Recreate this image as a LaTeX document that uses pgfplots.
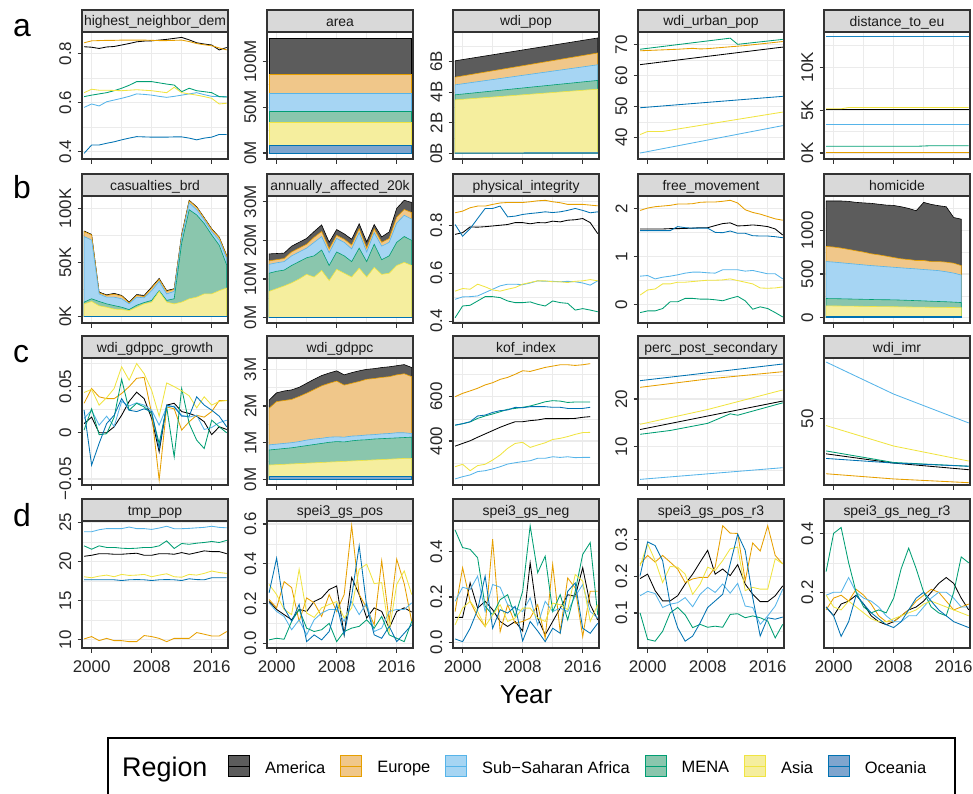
\documentclass[border=0pt]{standalone}
\usepackage{fontspec}
\setmainfont{Liberation Sans}
\usepackage{pgfplots}
\usepackage{pgfplotstable}
\pgfplotsset{compat=1.18}
\definecolor{cAm}{HTML}{000000}
\definecolor{cEu}{HTML}{E69F00}
\definecolor{cSs}{HTML}{56B4E9}
\definecolor{cMe}{HTML}{009E73}
\definecolor{cAs}{HTML}{F0E442}
\definecolor{cOc}{HTML}{0072B2}
\definecolor{fAm}{HTML}{5C5C5C}
\definecolor{fEu}{HTML}{F0C78A}
\definecolor{fSs}{HTML}{A6D5F3}
\definecolor{fMe}{HTML}{8AC6AD}
\definecolor{fAs}{HTML}{F5EE9E}
\definecolor{fOc}{HTML}{7FA5CE}
\definecolor{gridc}{HTML}{EBEBEB}
\definecolor{framec}{HTML}{333333}
\definecolor{stripc}{HTML}{D9D9D9}

\pgfplotsset{
 panel/.style={
  scale only axis, width=146bp, height=127bp, anchor=south west,
  xmin=1998.72, xmax=2018.17,
  xtick={2000,2008,2016}, minor xtick={2004,2012},
  grid=both,
  major grid style={draw=gridc, line width=1.1bp},
  minor grid style={draw=gridc, line width=0.55bp},
  axis line style={draw=framec, line width=1.3bp},
  major tick style={draw=framec, line width=1.1bp},
  minor tick length=0pt, major tick length=4.5bp,
  tick align=outside, xtick pos=bottom, ytick pos=left,
  xticklabels={},
  yticklabel style={xshift=-6bp, rotate=90, anchor=south, inner sep=0pt, font=\fontsize{17}{17}\selectfont, text=black!85},
  /pgf/number format/assume math mode=true,
  scaled y ticks=false, no markers,
  every axis plot/.append style={line width=0.85bp},
 },
 bottomrow/.style={xticklabels={2000,2008,2016},
  xticklabel style={yshift=-8bp, font=\fontsize{17}{17}\selectfont, anchor=north, inner sep=0pt, text=black!85}},
}
\newcommand\strip[2]{%
  \begin{scope}
    \clip (#1.north west) rectangle ([yshift=22bp]#1.north east);
    \fill[stripc] (#1.north west) rectangle ([yshift=22bp]#1.north east);
    \node[font=\fontsize{14}{14}\selectfont, text=black!90, inner sep=0pt, anchor=base] at ([yshift=6bp]#1.north) {#2};
  \end{scope}
  \draw[framec, line width=1.3bp] (#1.south west) rectangle ([yshift=22bp]#1.north east);
  \draw[framec, line width=1.3bp] (#1.north west) -- (#1.north east);
}
\newcommand\sixlines[1]{%
 \addplot[cAm] table[x=yr,y=am]{#1};
 \addplot[cEu] table[x=yr,y=eu]{#1};
 \addplot[cSs] table[x=yr,y=ss]{#1};
 \addplot[cMe] table[x=yr,y=me]{#1};
 \addplot[cAs] table[x=yr,y=as]{#1};
 \addplot[cOc] table[x=yr,y=oc]{#1};
}
\newcommand\sixstack[1]{%
 \addplot[draw=cAm, fill=fAm, line width=0.6bp] table[x=yr,y=am]{#1} \closedcycle;
 \addplot[draw=cEu, fill=fEu, line width=0.6bp] table[x=yr,y=eu]{#1} \closedcycle;
 \addplot[draw=cSs, fill=fSs, line width=0.6bp] table[x=yr,y=ss]{#1} \closedcycle;
 \addplot[draw=cMe, fill=fMe, line width=0.6bp] table[x=yr,y=me]{#1} \closedcycle;
 \addplot[draw=cAs, fill=fAs, line width=0.6bp] table[x=yr,y=as]{#1} \closedcycle;
 \addplot[draw=cOc, fill=fOc, line width=0.6bp] table[x=yr,y=oc]{#1} \closedcycle;
}

% ---------------- data ----------------
\pgfplotstableread{
yr am eu ss me as oc
1999 0.827 0.843 0.580 0.624 0.640 0.393
2000 0.825 0.851 0.594 0.630 0.654 0.427
2001 0.820 0.852 0.586 0.635 0.650 0.427
2002 0.826 0.853 0.603 0.640 0.650 0.434
2003 0.828 0.853 0.610 0.648 0.649 0.440
2004 0.834 0.854 0.617 0.658 0.648 0.448
2005 0.840 0.854 0.625 0.670 0.650 0.455
2006 0.847 0.854 0.635 0.685 0.652 0.461
2007 0.850 0.854 0.633 0.685 0.650 0.460
2008 0.851 0.853 0.630 0.685 0.648 0.459
2009 0.854 0.852 0.625 0.680 0.644 0.459
2010 0.857 0.852 0.621 0.675 0.640 0.459
2011 0.861 0.853 0.625 0.671 0.662 0.460
2012 0.865 0.854 0.630 0.644 0.640 0.460
2013 0.855 0.848 0.635 0.658 0.635 0.455
2014 0.843 0.840 0.640 0.648 0.630 0.448
2015 0.838 0.835 0.632 0.644 0.624 0.455
2016 0.834 0.831 0.625 0.640 0.617 0.459
2017 0.814 0.822 0.624 0.624 0.594 0.470
2018 0.824 0.814 0.624 0.622 0.597 0.470
}\tHND
\pgfplotstableread{
yr am eu ss me as oc
1999 125.5 85.5 65.5 45.5 33.5 8.4
2018 125.5 85.5 65.5 45.5 33.5 8.4
}\tAREA
\pgfplotstableread{
yr am eu ss me as oc
1999 6.04 4.97 4.47 3.82 3.49 0.03
2018 7.53 6.55 5.78 4.76 4.19 0.04
}\tPOP
\pgfplotstableread{
yr am eu ss me as oc
1999 79.1 78.6 74.0 13.4 11.8 0.2
2000 76.0 75.5 70.8 16.5 14.0 0.2
2001 22.7 22.0 21.0 14.0 10.0 0.2
2002 20.1 19.6 18.0 11.8 8.7 0.2
2003 21.5 20.8 18.0 10.2 7.0 0.2
2004 19.6 19.0 16.5 8.7 6.5 0.2
2005 13.4 12.7 11.8 6.5 5.6 0.2
2006 20.4 19.6 18.0 10.5 8.7 0.2
2007 19.6 18.6 17.4 13.0 11.8 0.2
2008 27.3 26.4 24.0 15.0 13.4 0.2
2009 35.3 34.5 32.6 24.0 23.3 0.2
2010 24.0 23.3 21.0 15.0 13.4 0.2
2011 25.8 25.2 23.3 16.5 11.8 0.2
2012 76.0 75.0 73.0 68.0 13.4 0.2
2013 107.5 107.0 105.0 98.8 16.5 0.2
2014 101.5 101.0 98.8 94.0 18.0 0.2
2015 91.5 91.0 89.4 86.0 21.0 0.2
2016 81.2 80.7 78.6 75.5 21.0 0.2
2017 73.5 73.0 70.8 66.0 24.0 0.2
2018 56.5 56.0 53.7 47.5 26.4 0.2
}\tCAS
\pgfplotstableread{
yr am eu ss me as oc
1999 16.5 14.7 13.8 11.5 6.8 0.1
2000 16.6 15.0 14.2 12.0 7.5 0.1
2001 16.7 15.3 14.5 12.3 8.2 0.1
2002 18.5 17.0 16.0 13.5 9.0 0.1
2003 19.5 18.0 17.0 14.5 10.0 0.1
2004 20.5 19.0 18.0 15.5 11.2 0.1
2005 22.3 20.8 19.5 16.0 10.5 0.1
2006 24.0 22.3 21.0 17.5 12.2 0.1
2007 19.5 17.8 16.8 13.5 9.6 0.1
2008 22.8 21.3 20.5 17.0 12.5 0.1
2009 21.7 20.3 19.5 16.0 11.5 0.1
2010 20.3 18.8 17.8 14.5 10.5 0.1
2011 24.3 23.0 22.0 18.0 12.8 0.1
2012 19.6 18.0 17.0 14.5 10.5 0.1
2013 24.1 23.0 22.0 19.0 13.0 0.1
2014 20.9 19.5 18.5 15.0 11.2 0.1
2015 22.2 20.5 19.5 16.0 11.5 0.1
2016 28.3 26.0 24.5 19.5 13.5 0.1
2017 30.4 28.0 26.5 21.0 14.3 0.1
2018 29.8 27.2 25.5 20.0 13.5 0.1
}\tAFF
\pgfplotstableread{
yr am eu ss me as oc
1999 0.762 0.852 0.491 0.414 0.525 0.803
2000 0.769 0.859 0.501 0.463 0.536 0.754
2001 0.793 0.873 0.502 0.466 0.533 0.786
2002 0.792 0.880 0.505 0.484 0.554 0.828
2003 0.794 0.880 0.519 0.502 0.543 0.870
2004 0.797 0.887 0.533 0.502 0.530 0.870
2005 0.800 0.893 0.547 0.498 0.525 0.880
2006 0.803 0.895 0.554 0.484 0.533 0.835
2007 0.811 0.895 0.554 0.477 0.540 0.838
2008 0.811 0.895 0.552 0.477 0.554 0.845
2009 0.806 0.898 0.559 0.480 0.561 0.849
2010 0.811 0.902 0.568 0.470 0.568 0.852
2011 0.810 0.904 0.566 0.463 0.568 0.856
2012 0.817 0.898 0.566 0.484 0.564 0.853
2013 0.814 0.894 0.564 0.477 0.564 0.856
2014 0.821 0.887 0.566 0.474 0.561 0.862
2015 0.823 0.887 0.564 0.446 0.566 0.870
2016 0.828 0.887 0.559 0.452 0.568 0.862
2017 0.811 0.884 0.550 0.446 0.573 0.852
2018 0.765 0.881 0.568 0.439 0.568 0.856
}\tPI
\pgfplotstableread{
yr am eu ss me as oc
1999 1.573 1.958 0.594 -0.161 0.203 1.538
2000 1.573 2.007 0.608 -0.126 0.308 1.538
2001 1.573 2.035 0.538 -0.126 0.329 1.538
2002 1.573 2.049 0.573 -0.077 0.434 1.538
2003 1.580 2.063 0.594 0.063 0.434 1.538
2004 1.580 2.090 0.622 0.063 0.469 1.622
2005 1.585 2.090 0.657 0.133 0.469 1.600
2006 1.590 2.098 0.678 0.133 0.483 1.590
2007 1.600 2.126 0.678 0.119 0.497 1.590
2008 1.600 2.133 0.664 0.119 0.510 1.590
2009 1.643 2.133 0.657 0.105 0.510 1.503
2010 1.685 2.147 0.727 0.084 0.517 1.496
2011 1.700 2.168 0.727 0.133 0.538 1.531
2012 1.636 2.112 0.727 0.175 0.503 1.483
2013 1.643 1.972 0.699 0.084 0.469 1.483
2014 1.657 1.916 0.713 -0.091 0.434 1.434
2015 1.643 1.881 0.678 -0.042 0.350 1.427
2016 1.622 1.832 0.643 -0.077 0.343 1.427
2017 1.573 1.783 0.643 -0.161 0.350 1.413
2018 1.448 1.755 0.538 -0.252 0.371 1.392
}\tFM
\pgfplotstableread{
yr am eu ss me as oc
1999 1335 815 642 219 135 19
2000 1335 808 636 218 134 19
2001 1335 796 628 216 133 19
2002 1330 781 620 214 132 19
2003 1319 765 612 212 131 19
2004 1313 750 604 210 130 19
2005 1308 731 596 208 128 19
2006 1298 719 590 206 127 19
2007 1288 704 583 205 126 19
2008 1284 688 577 204 125 19
2009 1269 673 570 201 124 19
2010 1250 665 564 198 122 19
2011 1223 654 558 195 121 19
2012 1319 654 551 192 120 19
2013 1296 642 545 188 119 19
2014 1281 642 538 185 118 19
2015 1269 635 525 182 117 19
2016 1146 623 510 178 116 19
2017 1127 596 488 173 115 19
}\tHOM
\pgfplotstableread{
yr am eu ss me as oc
1999 0.0100 0.032 0.0155 0.003 0.0437 0.0245
2000 0.0170 0.048 0.0245 0.026 0.0470 -0.035
2001 0.0000 0.039 0.0083 -0.002 0.0300 -0.0115
2002 0.0000 0.037 0.0180 -0.001 0.0380 0.010
2003 0.0065 0.037 0.0070 0.017 0.0480 0.019
2004 0.0190 0.0426 0.034 0.058 0.0715 0.037
2005 0.0340 0.050 0.0290 0.0245 0.057 0.0245
2006 0.0440 0.059 0.0325 0.032 0.075 0.023
2007 0.0370 0.060 0.0300 0.028 0.064 0.026
2008 0.0155 0.021 0.0245 0.021 0.046 0.023
2009 -0.0206 -0.051 0.0083 -0.0115 0.018 -0.017
2010 0.0300 0.028 0.0280 0.028 0.054 0.030
2011 0.0320 0.026 0.0290 -0.026 0.050 0.028
2012 0.0230 0.003 0.0190 0.048 0.0455 0.018
2013 0.0210 0.012 0.0170 0.010 0.040 0.018
2014 0.0180 0.019 0.0190 -0.008 0.027 0.039
2015 0.0120 0.017 0.0036 -0.017 0.039 0.030
2016 -0.002 0.023 0.0058 0.0137 0.030 0.0245
2017 0.0065 0.035 0.0110 0.0065 0.034 0.018
2018 0.0036 0.035 0.0137 0.000 0.035 0.0065
}\tGR
\pgfplotstableread{
yr am eu ss me as oc
1999 2.16 1.94 0.94 0.80 0.39 0.09
2000 2.36 2.12 0.96 0.82 0.40 0.09
2001 2.41 2.15 0.98 0.84 0.41 0.09
2002 2.44 2.18 1.00 0.86 0.42 0.09
2003 2.51 2.26 1.03 0.89 0.43 0.09
2004 2.62 2.35 1.07 0.92 0.44 0.09
2005 2.73 2.45 1.10 0.95 0.45 0.09
2006 2.83 2.55 1.12 0.98 0.46 0.09
2007 2.90 2.62 1.15 1.01 0.47 0.09
2008 2.96 2.68 1.16 1.03 0.48 0.09
2009 2.85 2.57 1.15 1.02 0.49 0.09
2010 2.91 2.62 1.18 1.05 0.50 0.09
2011 2.96 2.67 1.19 1.07 0.51 0.09
2012 3.00 2.73 1.21 1.08 0.52 0.09
2013 3.02 2.75 1.22 1.10 0.53 0.09
2014 3.05 2.78 1.24 1.11 0.54 0.09
2015 3.07 2.80 1.25 1.12 0.55 0.09
2016 3.10 2.85 1.27 1.13 0.56 0.09
2017 3.13 2.88 1.27 1.14 0.57 0.09
2018 3.05 2.80 1.25 1.15 0.57 0.09
}\tGDP
\pgfplotstableread{
yr am eu ss me as oc
1999 377 600 229 471 284 472
2000 389 615 239 478 295 478
2001 401 626 247 486 266 487
2002 417 638 262 502 289 513
2003 432 653 266 513 295 517
2004 447 663 274 522 314 529
2005 462 678 284 532 337 537
2006 475 687 296 543 367 540
2007 487 701 302 547 389 552
2008 487 717 307 552 394 550
2009 492 714 311 558 371 555
2010 495 723 322 567 382 555
2011 501 732 322 577 392 555
2012 501 738 329 582 407 552
2013 501 744 326 580 412 552
2014 501 744 329 574 420 547
2015 502 741 325 576 430 547
2016 507 744 326 576 438 547
2017 510 749 326 576 439 552
}\tKOF
\pgfplotstableread{
yr am eu ss me as oc
1999 20.67 10.13 23.80 22.00 18.06 17.67
2000 20.80 10.43 23.80 21.57 17.93 17.67
2001 21.00 9.91 24.06 22.00 18.14 17.67
2002 21.00 10.20 24.20 21.80 18.27 17.67
2003 20.93 9.91 24.20 21.80 18.06 17.67
2004 20.93 9.91 24.20 21.70 18.36 17.58
2005 21.00 9.78 24.40 21.66 18.23 17.67
2006 21.06 9.78 24.20 21.70 18.27 17.70
2007 20.80 10.56 24.20 21.80 18.36 17.67
2008 20.80 10.43 24.10 21.80 18.06 17.58
2009 21.00 10.20 24.27 22.00 18.27 17.67
2010 21.00 9.78 24.50 22.64 18.44 17.70
2011 20.93 10.20 24.19 21.66 18.06 17.67
2012 21.14 10.20 24.19 22.30 18.00 17.58
2013 20.93 10.20 24.23 22.20 18.36 17.80
2014 21.14 10.94 24.30 22.34 18.27 17.70
2015 21.36 10.73 24.36 22.43 18.49 17.67
2016 21.27 10.50 24.50 22.56 18.79 17.93
2017 21.27 10.50 24.36 22.43 18.60 17.93
2018 21.00 11.07 24.30 22.70 18.49 17.93
}\tTMP
\pgfplotstableread{
yr am eu ss me as oc
1999 0.210 0.220 0.203 0.017 0.296 0.254
2000 0.170 0.178 0.160 0.025 0.245 0.428
2001 0.144 0.310 0.135 0.020 0.170 0.178
2002 0.118 0.280 0.068 0.110 0.144 0.110
2003 0.170 0.110 0.118 0.170 0.372 0.195
2004 0.160 0.228 0.042 0.076 0.152 0.008
2005 0.210 0.203 0.118 0.059 0.130 0.042
2006 0.228 0.135 0.152 0.068 0.178 0.017
2007 0.270 0.245 0.170 0.100 0.195 0.059
2008 0.288 0.160 0.170 0.008 0.210 0.195
2009 0.042 0.245 0.110 0.059 0.127 0.042
2010 0.330 0.592 0.210 0.076 0.178 0.237
2011 0.245 0.245 0.144 0.085 0.372 0.490
2012 0.127 0.178 0.203 0.118 0.398 0.186
2013 0.178 0.093 0.059 0.076 0.300 0.042
2014 0.160 0.415 0.076 0.135 0.305 0.025
2015 0.076 0.110 0.160 0.042 0.060 0.085
2016 0.160 0.423 0.170 0.025 0.296 0.008
2017 0.178 0.300 0.170 0.008 0.364 0.050
2018 0.157 0.110 0.203 0.110 0.245 0.093
}\tSPP
\pgfplotstableread{
yr am eu ss me as oc
1999 0.110 0.136 0.181 0.495 0.077 0.015
2000 0.110 0.329 0.243 0.418 0.151 0.003
2001 0.262 0.181 0.233 0.410 0.181 0.062
2002 0.151 0.114 0.292 0.373 0.136 0.144
2003 0.181 0.070 0.136 0.159 0.070 0.292
2004 0.144 0.455 0.255 0.121 0.121 0.062
2005 0.092 0.047 0.243 0.188 0.166 0.144
2006 0.070 0.166 0.166 0.210 0.092 0.129
2007 0.092 0.084 0.151 0.114 0.107 0.159
2008 0.050 0.092 0.136 0.225 0.151 0.006
2009 0.351 0.107 0.196 0.514 0.151 0.092
2010 0.107 0.166 0.077 0.307 0.107 0.050
2011 0.033 0.018 0.181 0.380 0.092 0.003
2012 0.092 0.344 0.136 0.136 0.173 0.062
2013 0.151 0.047 0.151 0.210 0.166 0.040
2014 0.210 0.284 0.136 0.099 0.144 0.225
2015 0.203 0.240 0.203 0.225 0.299 0.262
2016 0.329 0.025 0.255 0.388 0.270 0.062
2017 0.166 0.225 0.136 0.440 0.092 0.040
2018 0.099 0.225 0.107 0.121 0.166 0.084
}\tSPN
\pgfplotstableread{
yr am eu ss me as oc
1999 0.194 0.234 0.147 0.100 0.229 0.202
2000 0.206 0.257 0.159 0.028 0.289 0.294
2001 0.161 0.239 0.153 0.023 0.243 0.284
2002 0.133 0.257 0.115 0.050 0.183 0.243
2003 0.133 0.239 0.124 0.100 0.227 0.124
2004 0.147 0.220 0.128 0.115 0.225 0.060
2005 0.179 0.183 0.142 0.095 0.206 0.023
2006 0.206 0.193 0.117 0.060 0.151 0.037
2007 0.239 0.197 0.151 0.069 0.179 0.073
2008 0.271 0.197 0.170 0.061 0.225 0.115
2009 0.206 0.225 0.156 0.064 0.216 0.133
2010 0.220 0.338 0.179 0.061 0.243 0.151
2011 0.202 0.318 0.154 0.096 0.275 0.234
2012 0.232 0.317 0.181 0.098 0.280 0.315
2013 0.179 0.188 0.119 0.087 0.161 0.271
2014 0.151 0.291 0.115 0.092 0.170 0.142
2015 0.131 0.269 0.069 0.087 0.165 0.037
2016 0.131 0.338 0.092 0.078 0.165 0.087
2017 0.147 0.257 0.119 0.032 0.248 0.083
2018 0.174 0.234 0.165 0.069 0.234 0.089
}\tSPPR
\pgfplotstableread{
yr am eu ss me as oc
1999 0.15 0.14 0.19 0.27 0.19 0.15
2000 0.12 0.18 0.20 0.40 0.15 0.12
2001 0.16 0.19 0.20 0.42 0.14 0.05
2002 0.17 0.17 0.25 0.30 0.17 0.10
2003 0.19 0.21 0.20 0.20 0.15 0.19
2004 0.16 0.19 0.18 0.15 0.13 0.16
2005 0.12 0.16 0.17 0.13 0.11 0.13
2006 0.10 0.12 0.15 0.14 0.10 0.11
2007 0.09 0.10 0.12 0.13 0.10 0.09
2008 0.10 0.10 0.10 0.18 0.11 0.08
2009 0.12 0.12 0.10 0.28 0.12 0.10
2010 0.14 0.14 0.12 0.35 0.13 0.14
2011 0.15 0.17 0.12 0.28 0.14 0.18
2012 0.17 0.19 0.15 0.20 0.16 0.20
2013 0.20 0.21 0.18 0.15 0.17 0.17
2014 0.23 0.20 0.20 0.13 0.16 0.14
2015 0.25 0.17 0.20 0.12 0.15 0.12
2016 0.23 0.14 0.18 0.20 0.14 0.10
2017 0.18 0.15 0.15 0.32 0.13 0.09
2018 0.14 0.16 0.15 0.30 0.12 0.08
}\tSPNR

\begin{document}
\begin{tikzpicture}
% ================= row a =================
\begin{axis}[panel, name=A1, at={(82bp,-159bp)}, ymin=0.370, ymax=0.887,
  ytick={0.4,0.6,0.8}, yticklabels={0.4,0.6,0.8}, minor ytick={0.5,0.7}]
\sixlines{\tHND}
\end{axis}
\strip{A1}{highest\_neighbor\_dem}

\begin{axis}[panel, name=A2, at={(267bp,-159bp)}, ymin=-6.5, ymax=132,
  ytick={0,50,100}, yticklabels={0M,50M,100M}, minor ytick={25,75,125}]
\sixstack{\tAREA}
\end{axis}
\strip{A2}{area}

\begin{axis}[panel, name=A3, at={(453bp,-159bp)}, ymin=-0.37, ymax=7.92,
  ytick={0,2,4,6}, yticklabels={0B,2B,4B,6B}, minor ytick={1,3,5,7}]
\sixstack{\tPOP}
\end{axis}
\strip{A3}{wdi\_pop}

\begin{axis}[panel, name=A4, at={(638bp,-159bp)}, ymin=32.96, ymax=74.2,
  ytick={40,50,60,70}, yticklabels={40,50,60,70}, minor ytick={35,45,55,65}]
\addplot[cAm] coordinates {(1999,63.6) (2018,69.3)};
\addplot[cEu] coordinates {(1999,68.1) (2004,68.6) (2006,68.9) (2007,68.7) (2008,68.8) (2013,69.8) (2018,71.1)};
\addplot[cSs] coordinates {(1999,34.9) (2018,43.8)};
\addplot[cMe] coordinates {(1999,68.6) (2011,72.2) (2012,70.2) (2018,71.8)};
\addplot[cAs] coordinates {(1999,40.9) (2000,41.9) (2002,41.9) (2018,48.2)};
\addplot[cOc] coordinates {(1999,49.6) (2018,53.3)};
\end{axis}
\strip{A4}{wdi\_urban\_pop}

\begin{axis}[panel, name=A5, at={(824bp,-159bp)}, ymin=-0.7, ymax=14.1,
  ytick={0,5,10}, yticklabels={0K,5K,10K}, minor ytick={2.5,7.5,12.5}]
\addplot[cAm, line width=1.1bp] coordinates {(1999,5.05) (2018,5.05)};
\addplot[cEu] coordinates {(1999,0.02) (2018,0.02)};
\addplot[cSs] coordinates {(1999,3.3) (2018,3.3)};
\addplot[cMe] coordinates {(1999,0.78) (2011,0.78) (2013,0.85) (2018,0.85)};
\addplot[cAs] coordinates {(1999,5.15) (2001,5.15) (2002,5.3) (2018,5.3)};
\addplot[cOc!75!cSs, line width=1.1bp] coordinates {(1999,13.6) (2018,13.6)};
\end{axis}
\strip{A5}{distance\_to\_eu}

% ================= row b =================
\begin{axis}[panel, name=B1, at={(82bp,-323bp)}, ymin=-5.9, ymax=111.5,
  ytick={0,50,100}, yticklabels={0K,50K,100K}, minor ytick={25,75}]
\sixstack{\tCAS}
\end{axis}
\strip{B1}{casualties\_brd}

\begin{axis}[panel, name=B2, at={(267bp,-323bp)}, ymin=-1.4, ymax=31.5,
  ytick={0,10,20,30}, yticklabels={0M,10M,20M,30M}, minor ytick={5,15,25}]
\sixstack{\tAFF}
\end{axis}
\strip{B2}{annually\_affected\_20k}

\begin{axis}[panel, name=B3, at={(453bp,-323bp)}, ymin=0.392, ymax=0.922,
  ytick={0.4,0.6,0.8}, yticklabels={0.4,0.6,0.8}, minor ytick={0.5,0.7,0.9}]
\sixlines{\tPI}
\end{axis}
\strip{B3}{physical\_integrity}

\begin{axis}[panel, name=B4, at={(638bp,-323bp)}, ymin=-0.377, ymax=2.257,
  ytick={0,1,2}, yticklabels={0,1,2}, minor ytick={0.5,1.5}]
\sixlines{\tFM}
\end{axis}
\strip{B4}{free\_movement}

\begin{axis}[panel, name=B5, at={(824bp,-323bp)}, ymin=-61, ymax=1392,
  ytick={0,500,1000}, yticklabels={0,500,1000}, minor ytick={250,750,1250}]
\sixstack{\tHOM}
\end{axis}
\strip{B5}{homicide}

% ================= row c =================
\begin{axis}[panel, name=C1, at={(82bp,-485bp)}, ymin=-0.0565, ymax=0.081,
  ytick={-0.05,0,0.05}, yticklabels={−0.05,0,0.05}, minor ytick={-0.025,0.025,0.075}]
\sixlines{\tGR}
\end{axis}
\strip{C1}{wdi\_gdppc\_growth}

\begin{axis}[panel, name=C2, at={(267bp,-485bp)}, ymin=-0.155, ymax=3.31,
  ytick={0,1,2,3}, yticklabels={0M,1M,2M,3M}, minor ytick={0.5,1.5,2.5}]
\sixstack{\tGDP}
\end{axis}
\strip{C2}{wdi\_gdppc}

\begin{axis}[panel, name=C3, at={(453bp,-485bp)}, ymin=201.5, ymax=774.5,
  ytick={400,600}, yticklabels={400,600}, minor ytick={300,500,700}]
\sixlines{\tKOF}
\end{axis}
\strip{C3}{kof\_index}

\begin{axis}[panel, name=C4, at={(638bp,-485bp)}, ymin=1.97, ymax=28.6,
  ytick={10,20}, yticklabels={10,20}, minor ytick={5,15,25}]
\addplot[cAm] coordinates {(1999,13.6) (2018,19.58)};
\addplot[cEu] coordinates {(1999,22.45) (2008,24.2) (2018,25.73)};
\addplot[cSs] coordinates {(1999,3.15) (2018,5.6)};
\addplot[cMe] coordinates {(1999,12.6) (2003,13.4) (2008,14.9) (2011,16.9) (2012,16.6) (2018,19.2)};
\addplot[cAs] coordinates {(1999,14.7) (2008,17.8) (2018,21.9)};
\addplot[cOc] coordinates {(1999,23.85) (2018,27.34)};
\end{axis}
\strip{C4}{perc\_post\_secondary}

\begin{axis}[panel, name=C5, at={(824bp,-485bp)}, ymin=27, ymax=71,
  ytick={50}, yticklabels={50}]
\addplot[cAm] coordinates {(1999,37.8) (2008,34.6) (2018,32.3)};
\addplot[cEu] coordinates {(1999,30.9) (2008,29.1) (2018,27.8)};
\addplot[cSs] coordinates {(1999,69.6) (2008,58.5) (2018,48.5)};
\addplot[cMe] coordinates {(1999,38.8) (2008,34.8) (2018,33.5)};
\addplot[cAs] coordinates {(1999,47.6) (2008,40.5) (2018,35.3)};
\addplot[cOc] coordinates {(1999,36.2) (2008,34.6) (2018,33.5)};
\end{axis}
\strip{C5}{wdi\_imr}

% ================= row d =================
\begin{axis}[panel, bottomrow, name=D1, at={(82bp,-648bp)}, ymin=8.97, ymax=25.17,
  ytick={10,15,20,25}, yticklabels={10,15,20,25}, minor ytick={12.5,17.5,22.5}]
\sixlines{\tTMP}
\end{axis}
\strip{D1}{tmp\_pop}

\begin{axis}[panel, bottomrow, name=D2, at={(267bp,-648bp)}, ymin=-0.024, ymax=0.615,
  ytick={0,0.2,0.4,0.6}, yticklabels={0.0,0.2,0.4,0.6}, minor ytick={0.1,0.3,0.5}]
\sixlines{\tSPP}
\end{axis}
\strip{D2}{spei3\_gs\_pos}

\begin{axis}[panel, bottomrow, name=D3, at={(453bp,-648bp)}, ymin=-0.025, ymax=0.535,
  ytick={0,0.2,0.4}, yticklabels={0.0,0.2,0.4}, minor ytick={0.1,0.3,0.5}]
\sixlines{\tSPN}
\end{axis}
\strip{D3}{spei3\_gs\_neg}

\begin{axis}[panel, bottomrow, name=D4, at={(638bp,-648bp)}, ymin=0.0044, ymax=0.351,
  ytick={0.1,0.2,0.3}, yticklabels={0.1,0.2,0.3}, minor ytick={0.05,0.15,0.25,0.35}]
\sixlines{\tSPPR}
\end{axis}
\strip{D4}{spei3\_gs\_pos\_r3}

\begin{axis}[panel, bottomrow, name=D5, at={(824bp,-648bp)}, ymin=0.0106, ymax=0.442,
  ytick={0.2,0.4}, yticklabels={0.2,0.4}, minor ytick={0.1,0.3}]
\sixlines{\tSPNR}
\end{axis}
\strip{D5}{spei3\_gs\_neg\_r3}

% ================= labels =================
\node[font=\fontsize{32}{32}\selectfont, anchor=base west, inner sep=0pt] at (13bp,-36bp) {a};
\node[font=\fontsize{32}{32}\selectfont, anchor=base west, inner sep=0pt] at (13bp,-198bp) {b};
\node[font=\fontsize{32}{32}\selectfont, anchor=base west, inner sep=0pt] at (13bp,-362bp) {c};
\node[font=\fontsize{32}{32}\selectfont, anchor=base west, inner sep=0pt] at (13bp,-526bp) {d};
\node[font=\fontsize{26}{26}\selectfont, anchor=base, inner sep=0pt] at (526bp,-703bp) {Year};

% ================= legend =================
\draw[black, line width=1.4bp] (108bp,-738bp) rectangle (955bp,-830bp);
\node[font=\fontsize{27}{27}\selectfont, anchor=base west, inner sep=0pt] at (122bp,-776bp) {Region};
\begin{axis}[at={(0bp,-794bp)}, anchor=south west, scale only axis, width=973bp, height=794bp,
  xmin=0, xmax=973, ymin=-794, ymax=0, hide axis, clip=false,
  legend columns=-1, legend cell align=left,
  legend style={at={(axis cs:228,-766)}, anchor=west, draw=none, fill=none, inner sep=0pt,
    font=\fontsize{16.5}{16.5}\selectfont, nodes={inner sep=0pt},
    /tikz/every odd column/.append style={column sep=15bp},
    /tikz/every even column/.append style={column sep=15bp}},
  legend image code/.code={\draw[#1, line width=0.9bp] (0bp,-8.5bp) rectangle (21bp,12.5bp);
     \draw[#1, fill=none, line width=0.9bp] (0bp,2bp) -- (21bp,2bp);}]
\addlegendimage{draw=cAm, fill=fAm}\addlegendentry{America}
\addlegendimage{draw=cEu, fill=fEu}\addlegendentry{Europe}
\addlegendimage{draw=cSs, fill=fSs}\addlegendentry{Sub−Saharan Africa}
\addlegendimage{draw=cMe, fill=fMe}\addlegendentry{MENA}
\addlegendimage{draw=cAs, fill=fAs}\addlegendentry{Asia}
\addlegendimage{draw=cOc, fill=fOc}\addlegendentry{Oceania}
\end{axis}
\pgfresetboundingbox
\useasboundingbox (0bp,0bp) rectangle (973bp,-794bp);
\end{tikzpicture}
\end{document}
